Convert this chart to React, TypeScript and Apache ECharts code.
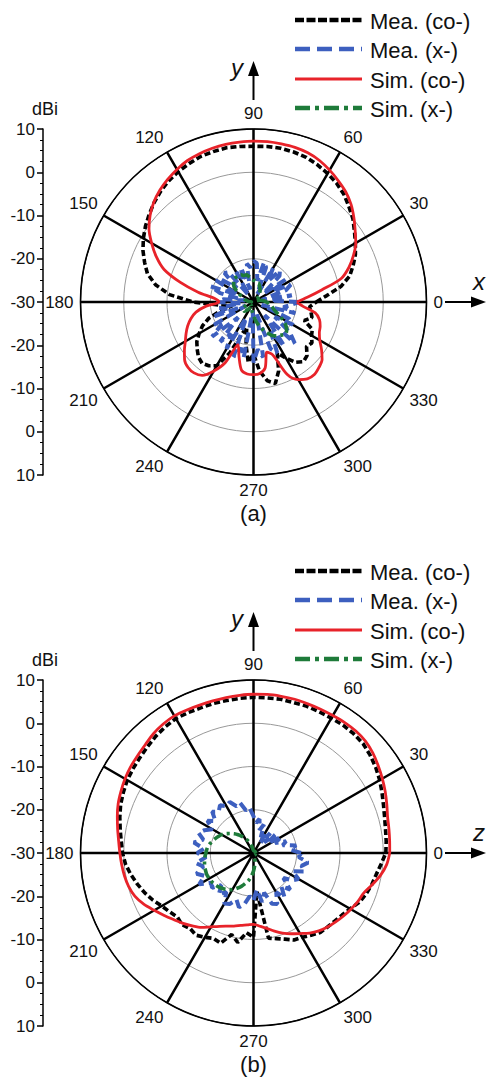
import React, { useEffect, useRef } from "react";
import * as echarts from "echarts";

// ---------- data ----------
const ANGLES = [
  0, 5, 10, 15, 20, 25, 30, 35, 40, 45, 50, 55,
  60, 65, 70, 75, 80, 85, 90, 95, 100, 105, 110, 115,
  120, 125, 130, 135, 140, 145, 150, 155, 160, 165, 170, 175,
  180, 185, 190, 195, 200, 205, 210, 215, 220, 225, 230, 235,
  240, 245, 250, 255, 260, 265, 270, 275, 280, 285, 290, 295,
  300, 305, 310, 315, 320, 325, 330, 335, 340, 345, 350, 355,
  360,
];

const SERIES_NAMES = ["Mea. (co-)", "Mea. (x-)", "Sim. (co-)", "Sim. (x-)"];
const PANEL_LABELS = ["(a)", "(b)"];
const HORIZONTAL_AXIS_NAMES = ["x", "z"];
const VERTICAL_AXIS_NAME = "y";
const UNIT_LABEL = "dBi";

// (a) x-y plane
const A_MEA_CO = [
  -15.5, -13, -9.5, -7, -5.5, -4, -2.8, -1.5, 0, 1.2, 2.5, 3.5,
  4.3, 5.0, 5.6, 5.9, 6.1, 6.1, 6.0, 6.1, 6.2, 6.0, 5.8, 5.3,
  4.8, 4.2, 3.4, 2.5, 1.5, 0.5, -0.6, -1.8, -3.2, -4.6, -7, -10.5,
  -16, -22, -25, -22, -19, -17, -15.5, -14, -13, -12, -11.5, -12,
  -13, -17, -22, -24, -20, -16, -18, -14, -11.5, -10.5, -13, -17,
  -15, -13, -12, -12.5, -14, -13.5, -14.5, -15, -17.5, -16, -16.5, -17,
  -15.5,
];
const A_MEA_X = [
  -19.5, -26, -21, -28, -22, -20.5, -25, -21, -27, -21.5, -20.5, -24,
  -21, -28, -21.5, -20.5, -25, -21, -20.5, -22, -21, -27, -21.5, -24,
  -22, -28, -21, -20.5, -25, -21, -20, -26, -19.5, -22, -28, -23,
  -21.5, -27, -22, -24, -20, -28, -19.5, -21, -17.5, -25, -18, -21,
  -17.5, -26, -16.5, -19, -17, -28, -16, -19, -17, -27, -18.5, -17,
  -22, -17.5, -26, -16.5, -19, -24, -19.5, -21, -28, -20, -23, -21.5,
  -19.5,
];
const A_SIM_CO = [
  -20, -17.5, -14, -9, -6.5, -4.5, -2.7, -1.3, 0.3, 1.9, 3.2, 4.2,
  5.2, 6.1, 6.7, 7.0, 7.1, 7.2, 7.2, 7.1, 7.0, 6.8, 6.5, 6.1,
  5.4, 4.6, 3.7, 2.6, 1.2, -0.5, -2.8, -5.2, -8.0, -12.5, -17, -21,
  -22, -19, -16.5, -15, -13.8, -12.8, -11.8, -10.5, -9.2, -8.6, -8.6, -9.3,
  -11.5, -14.5, -19.5, -17, -14, -13.3, -13.2, -13.4, -14.5, -18, -17, -11.5,
  -9.3, -8.3, -8.1, -8.6, -9.3, -10.8, -12.3, -13.2, -13.6, -14.2, -15.5, -18.5,
  -20,
];
const A_SIM_X = [
  -27, -27.5, -28, -28.5, -29, -29, -29.5, -29.5, -29, -28.5, -28, -27.5,
  -27, -26.5, -26, -25.5, -25.5, -25, -25, -24.5, -24, -23.5, -23.5, -23,
  -23, -23, -23, -23.5, -24, -25, -26, -27, -27.5, -28, -28.5, -29,
  -29.5, -29.5, -29, -29, -28.5, -28, -27.5, -27, -27, -27, -27.5, -28,
  -28.5, -29, -29, -28.5, -28, -27.5, -27, -26, -25, -24, -23, -22,
  -21, -20.5, -20, -19.5, -20, -21, -22.5, -24, -25, -25.5, -26, -26.5,
  -27,
];

// (b) y-z plane
const B_MEA_CO = [
  0.6, 0.8, 1.0, 1.4, 2.0, 2.8, 3.7, 4.5, 5.2, 5.8, 6.0, 6.1,
  6.0, 6.0, 6.1, 6.0, 6.1, 6.0, 6.0, 5.9, 5.8, 5.8, 5.7, 5.8,
  5.9, 5.6, 5.2, 4.7, 4.3, 4.0, 3.7, 3.2, 2.7, 2.0, 1.3, 0.7,
  0.3, -0.3, -1.2, -2.2, -3.2, -4.3, -5.5, -6.3, -7.0, -6.6, -7.2, -6.8,
  -7.5, -8.2, -7.8, -10.5, -9.0, -11.5, -10.5, -21, -10, -9.5, -8.8, -7.8,
  -7.5, -6.8, -6.0, -5.8, -5.5, -5.0, -4.2, -3.0, -2.3, -1.7, -1.2, -0.4,
  0.6,
];
const B_MEA_X = [
  -19, -21.5, -20, -23, -22, -24.5, -22.5, -26, -23.5, -26.5, -24, -27,
  -24.5, -26, -23, -24.5, -22, -23, -21.5, -19.5, -20, -18, -18.5, -17,
  -17.5, -16.5, -17.5, -16.5, -18.5, -17, -19, -17.5, -16.5, -18, -16, -18.5,
  -17, -19, -16.5, -18, -16, -17.5, -15.5, -18, -17.5, -19.5, -17.5, -19,
  -16.5, -17, -18.5, -17, -18, -20, -19, -21.5, -18.5, -20.5, -17.5, -17,
  -19.5, -17.5, -20, -18, -21, -19, -18, -20, -17.5, -18.5, -17.2, -19.5,
  -19,
];
const B_SIM_CO = [
  1.5, 1.6, 1.8, 2.1, 2.8, 3.6, 4.4, 5.2, 6.0, 6.6, 6.8, 6.8,
  6.7, 6.7, 6.7, 6.8, 6.8, 6.8, 6.7, 6.6, 6.5, 6.4, 6.4, 6.5,
  6.6, 6.4, 6.0, 5.4, 5.0, 4.7, 4.3, 3.8, 3.3, 2.6, 1.9, 1.3,
  0.9, 0.6, 0.3, -0.1, -0.8, -2.0, -3.5, -4.8, -6.0, -7.0, -8.0, -9.0,
  -10.3, -11.3, -12.0, -12.5, -13.0, -13.3, -13.5, -13.0, -12.3, -11.3, -10.3, -9.4,
  -8.5, -7.4, -6.5, -5.8, -5.2, -4.6, -4.0, -3.4, -2.9, -1.6, -0.2, 0.9,
  1.5,
];
const B_SIM_X = [
  -29.5, -29.5, -29.5, -29.5, -29.5, -29.5, -29.5, -29.5, -29.5, -29.5, -29.5, -29.5,
  -29.5, -29.5, -29.5, -29.5, -29.5, -29.5, -29.5, -29.3, -29, -28.3, -27.5, -26.8,
  -26, -25.3, -24.5, -23.7, -23, -22.2, -21.5, -21, -20.5, -20, -19.5, -19.2,
  -19, -18.7, -18.5, -18.3, -18.2, -18.1, -18.2, -18.3, -18.5, -18.8, -19.2, -19.7,
  -20.2, -21, -21.8, -22.7, -23.6, -24.7, -25.8, -27, -28, -29, -29.5, -29.5,
  -29.5, -29.5, -29.5, -29.5, -29.5, -29.5, -29.5, -29.5, -29.5, -29.5, -29.5, -29.5,
  -29.5,
];

const PANELS = [
  [A_MEA_CO, A_MEA_X, A_SIM_CO, A_SIM_X],
  [B_MEA_CO, B_MEA_X, B_SIM_CO, B_SIM_X],
];

// ---------- layout & style ----------
const FONT = "'Liberation Sans', Arial, Helvetica, sans-serif";
const CX = 253.5;
const CY0 = 302;
const DY = 551;
const R = 173;

const STYLES = [
  { color: "#000000", width: 3.6, type: [6, 3] as any, legendDash: [9, 2.5], legendWidth: 4.5 },
  { color: "#3d5fbf", width: 4, type: [10, 5] as any, legendDash: [15, 7], legendWidth: 4.5 },
  { color: "#e8232a", width: 2.8, type: "solid" as any, legendDash: null, legendWidth: 3 },
  { color: "#1e7b3a", width: 3.6, type: [10, 4, 3, 4] as any, legendDash: [15, 5, 4, 5], legendWidth: 4.5 },
];

function buildOption() {
  const polar: any[] = [];
  const angleAxis: any[] = [];
  const radiusAxis: any[] = [];
  const grid: any[] = [];
  const xAxis: any[] = [];
  const yAxis: any[] = [];
  const series: any[] = [];
  const graphic: any[] = [];

  const txt = (x: number, y: number, text: string, size: number, align = "center", italic = false) => ({
    type: "text",
    x,
    y,
    silent: true,
    style: {
      text,
      fill: "#111",
      fontSize: size,
      fontStyle: italic ? "italic" : "normal",
      fontFamily: FONT,
      align,
      verticalAlign: "middle",
      textAlign: align,
      textVerticalAlign: "middle",
    },
  });

  PANELS.forEach((vals, p) => {
    const cy = CY0 + p * DY;
    polar.push({ center: [CX, cy], radius: R });
    angleAxis.push({
      polarIndex: p,
      type: "value",
      min: 0,
      max: 360,
      interval: 30,
      startAngle: 0,
      clockwise: false,
      axisLine: { show: true, lineStyle: { color: "#000", width: 1.6 } },
      axisTick: { show: false },
      axisLabel: { show: true, margin: 7, fontSize: 17, color: "#111", fontFamily: FONT },
      splitLine: { show: true, lineStyle: { color: "#000", width: 2.5 } },
    });
    radiusAxis.push({
      polarIndex: p,
      type: "value",
      min: -30,
      max: 10,
      interval: 10,
      axisLine: { show: false },
      axisTick: { show: false },
      axisLabel: { show: false },
      splitLine: {
        show: true,
        lineStyle: { color: ["#999", "#999", "#999", "#999", "#000"], width: 1 },
      },
    });
    grid.push({ left: 43, top: cy - R, width: 1, height: 2 * R, outerBoundsMode: "none" });
    xAxis.push({ gridIndex: p, type: "value", show: false });
    yAxis.push({
      gridIndex: p,
      type: "value",
      min: -40,
      max: 40,
      interval: 10,
      axisLine: { show: true, lineStyle: { color: "#000", width: 1.5 } },
      axisTick: { show: true, length: 6, lineStyle: { color: "#000", width: 1.5 } },
      minorTick: { show: true, splitNumber: 4, length: 3, lineStyle: { color: "#000", width: 1 } },
      splitLine: { show: false },
      axisLabel: {
        formatter: (v: number) => String(Math.abs(v) - 30),
        fontSize: 17,
        margin: 8,
        color: "#111",
        fontFamily: FONT,
      },
    });

    vals.forEach((v, k) => {
      const st = STYLES[k];
      series.push({
        type: "line",
        name: SERIES_NAMES[k],
        coordinateSystem: "polar",
        polarIndex: p,
        data: v.map((r, i) => [r, ANGLES[i]]),
        symbol: "none",
        showSymbol: false,
        smooth: k >= 2 ? 0.3 : false,
        lineStyle: { color: st.color, width: st.width, type: st.type },
        itemStyle: { color: st.color },
        z: 3 + k,
        silent: true,
      });
    });

    // legend (drawn)
    const legendY = [20, 49, 79, 108];
    SERIES_NAMES.forEach((name, k) => {
      const st = STYLES[k];
      const y = legendY[k] + p * DY;
      graphic.push({
        type: "line",
        shape: { x1: 295, y1: y, x2: 362, y2: y },
        style: {
          stroke: st.color,
          lineWidth: st.legendWidth,
          lineDash: st.legendDash || undefined,
        },
        silent: true,
      });
      graphic.push(txt(370, y + 1, name, 22, "left"));
    });

    // horizontal arrow
    graphic.push({
      type: "line",
      shape: { x1: 445, y1: cy, x2: 474, y2: cy },
      style: { stroke: "#000", lineWidth: 2 },
      silent: true,
    });
    graphic.push({
      type: "polygon",
      shape: { points: [[471, cy - 5.5], [486, cy], [471, cy + 5.5]] },
      style: { fill: "#000" },
      silent: true,
    });
    graphic.push(txt(479, cy - 21, HORIZONTAL_AXIS_NAMES[p], 24, "center", true));
    // vertical arrow
    graphic.push({
      type: "line",
      shape: { x1: CX, y1: cy - 202, x2: CX, y2: cy - 228 },
      style: { stroke: "#000", lineWidth: 2 },
      silent: true,
    });
    graphic.push({
      type: "polygon",
      shape: { points: [[CX - 5.5, cy - 226], [CX, cy - 241], [CX + 5.5, cy - 226]] },
      style: { fill: "#000" },
      silent: true,
    });
    graphic.push(txt(237, cy - 235, VERTICAL_AXIS_NAME, 24, "center", true));
    // dBi unit
    graphic.push(txt(45, cy - 193, UNIT_LABEL, 18));
    // panel label
    graphic.push(txt(CX, cy + 211, PANEL_LABELS[p], 22));
  });

  return {
    animation: false,
    backgroundColor: "#ffffff",
    polar,
    angleAxis,
    radiusAxis,
    grid,
    xAxis,
    yAxis,
    series,
    graphic,
  };
}

export default function App() {
  const ref = useRef<HTMLDivElement | null>(null);
  useEffect(() => {
    if (!ref.current) return;
    const chart = echarts.init(ref.current, undefined, { renderer: "svg" });
    chart.setOption(buildOption() as any);
    return () => chart.dispose();
  }, []);
  return (
    <div
      ref={ref}
      style={{ position: "absolute", left: 0, top: 0, width: 487, height: 1081, background: "#fff" }}
    />
  );
}
